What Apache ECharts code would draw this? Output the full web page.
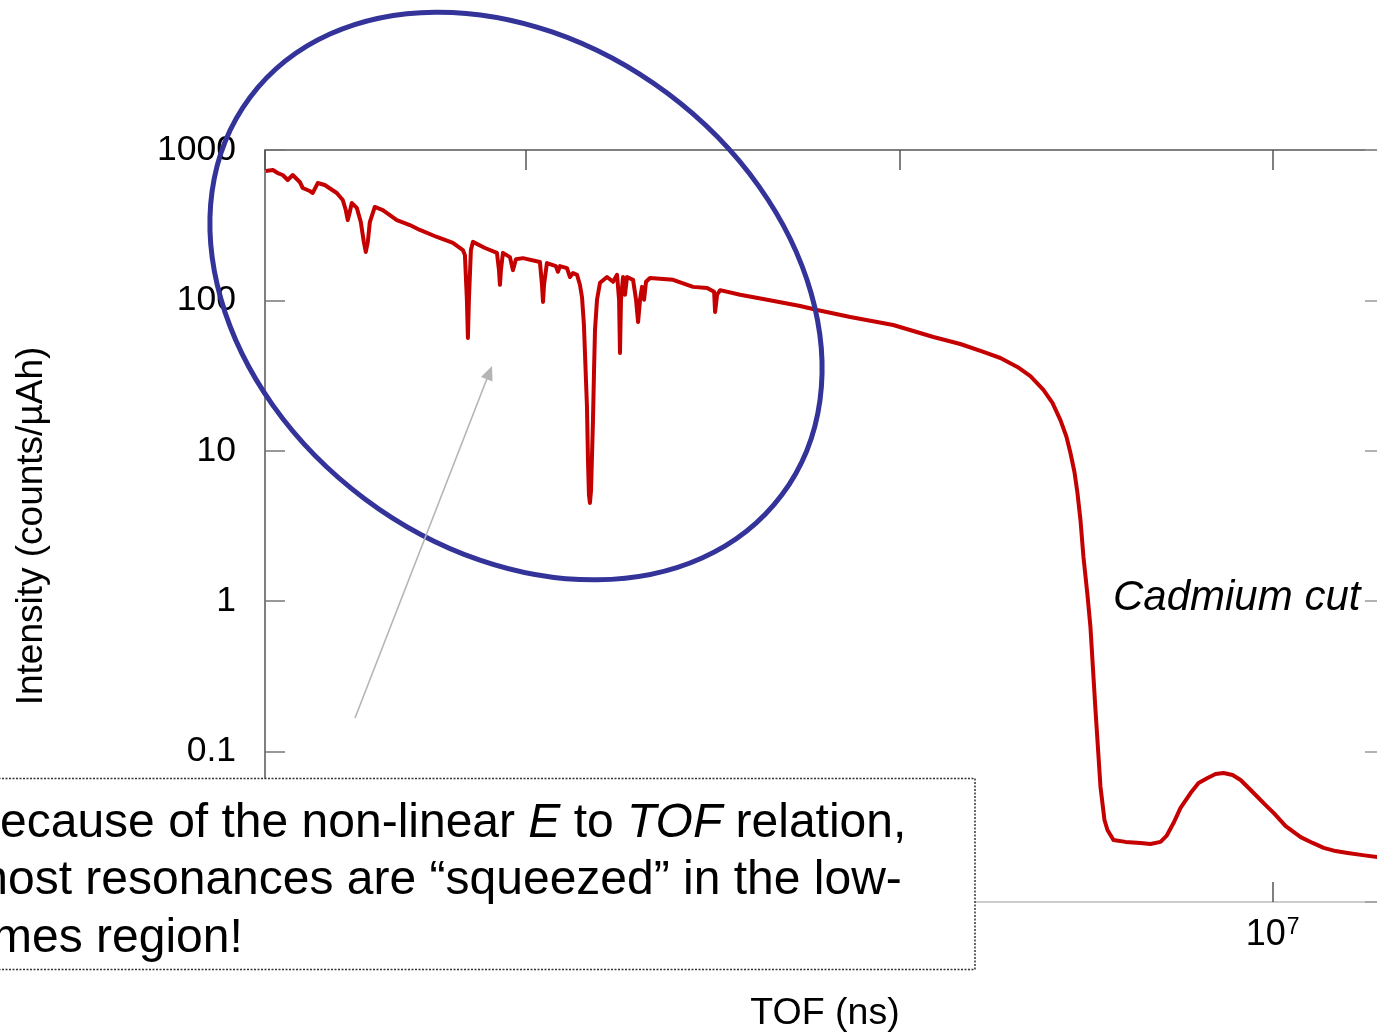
<!DOCTYPE html>
<html>
<head>
<meta charset="utf-8">
<title>TOF spectrum</title>
<script src="https://cdn.jsdelivr.net/npm/echarts@6/dist/echarts.min.js"></script>
<style>
  html, body { margin: 0; padding: 0; background: #ffffff; overflow: hidden; }
  #chart { width: 1377px; height: 1036px; }
</style>
</head>
<body>
<div id="chart"></div>
<script>
// Neutron time-of-flight (ns) and measured intensity (counts/µAh)
const tofNs = [
  2.01e4, 2.10e4, 2.163e4, 2.231e4, 2.301e4, 2.373e4, 2.478e4, 2.524e4, 2.636e4, 2.685e4,
  2.769e4, 2.891e4, 3.114e4, 3.231e4, 3.291e4, 3.332e4, 3.374e4, 3.415e4, 3.523e4, 3.611e4,
  3.679e4, 3.724e4, 3.771e4, 3.818e4, 3.937e4, 4.136e4, 4.510e4, 4.887e4, 5.197e4, 5.774e4,
  6.373e4, 6.778e4, 6.863e4, 6.947e4, 6.991e4, 7.034e4, 7.121e4, 7.210e4, 7.766e4, 8.362e4,
  8.467e4, 8.519e4, 8.570e4, 8.677e4, 9.060e4, 9.228e4, 9.401e4, 9.817e4, 1.090e5, 1.104e5,
  1.111e5, 1.118e5, 1.138e5, 1.203e5, 1.218e5, 1.234e5, 1.288e5, 1.312e5, 1.337e5, 1.370e5,
  1.395e5, 1.413e5, 1.430e5, 1.439e5, 1.457e5, 1.466e5, 1.475e5, 1.484e5, 1.494e5, 1.503e5,
  1.512e5, 1.522e5, 1.531e5, 1.550e5, 1.579e5, 1.649e5, 1.711e5, 1.754e5, 1.776e5, 1.786e5,
  1.797e5, 1.820e5, 1.842e5, 1.865e5, 1.888e5, 1.936e5, 1.972e5, 1.997e5, 2.021e5, 2.046e5,
  2.072e5, 2.097e5, 2.149e5, 2.478e5, 2.803e5, 3.057e5, 3.192e5, 3.211e5, 3.251e5, 3.312e5,
  3.747e5, 4.428e5, 5.427e5, 6.029e5, 7.389e5, 9.636e5, 1.234e6, 1.457e6, 1.680e6, 1.866e6,
  2.072e6, 2.245e6, 2.433e6, 2.572e6, 2.702e6, 2.804e6, 2.874e6, 2.946e6, 3.001e6, 3.057e6,
  3.114e6, 3.192e6, 3.251e6, 3.354e6, 3.459e6, 3.545e6, 3.611e6, 3.747e6, 4.036e6, 4.428e6,
  4.709e6, 5.009e6, 5.197e6, 5.427e6, 5.667e6, 6.029e6, 6.333e6, 6.694e6, 7.033e6, 7.389e6,
  7.812e6, 8.208e6, 8.626e6, 9.115e6, 9.577e6, 1.006e7, 1.084e7, 1.189e7, 1.280e7, 1.370e7,
  1.475e7, 1.589e7, 1.743e7, 1.912e7, 2.0e7
];
const intensity = [
  725, 736, 703, 682, 632, 682, 613, 559, 534, 518,
  603, 585, 518, 465, 399, 342, 387, 444, 412, 332,
  245, 210, 245, 332, 418, 399, 342, 317, 294, 264,
  241, 216, 200, 101, 56.2, 101, 216, 245, 223, 207,
  159, 127, 159, 207, 194, 159, 188, 191, 180, 127,
  97.6, 127, 177, 169, 155, 169, 164, 143, 152, 148,
  127, 105, 68.6, 44.7, 19.6, 8.69, 5.08, 4.50, 5.49, 9.38,
  16.0, 34.5, 63.6, 101, 131, 143, 133, 148, 101, 44.7,
  101, 143, 109, 143, 141, 137, 101, 71.8, 101, 123,
  101, 133, 141, 137, 123, 121, 114, 83.7, 109, 117,
  109, 101, 91.8, 86.3, 77.6, 68.6, 57.1, 51.3, 45.4, 41.4,
  36.1, 31.4, 25.4, 20.8, 16.0, 12.4, 9.67, 7.23, 5.24, 3.47,
  1.97, 1.10, 0.674, 0.189, 0.0582, 0.0351, 0.0301, 0.0258, 0.0251, 0.0247,
  0.0243, 0.0251, 0.0275, 0.0335, 0.0422, 0.0530, 0.0618, 0.0668, 0.0710, 0.0721,
  0.0699, 0.0647, 0.0573, 0.0499, 0.0441, 0.0391, 0.0320, 0.0270, 0.0247, 0.0229,
  0.0218, 0.0212, 0.0205, 0.0199, 0.0197
];

// Axis ranges and tick labels
const tofRange = [2e4, 2e7];
const intensityRange = [0.01, 1000];
const yTickLabels = ['0.01', '0.1', '1', '10', '100', '1000'];

const FONT = '"Liberation Sans", Arial, Helvetica, sans-serif';

const chart = echarts.init(document.getElementById('chart'), null, { renderer: 'canvas' });

function isDecade(v) {
  const n = Math.log10(v);
  return Math.abs(n - Math.round(n)) < 1e-6;
}

const noLabels = { show: false };

const option = {
  backgroundColor: '#ffffff',
  animation: false,
  grid: {
    left: 265, top: 150, width: 1120, height: 752,
    containLabel: false, outerBoundsMode: 'none'
  },
  xAxis: [
    {
      type: 'log', logBase: 10, min: tofRange[0], max: tofRange[1], position: 'bottom',
      name: 'TOF (ns)', nameLocation: 'middle', nameGap: 93,
      nameTextStyle: { fontFamily: FONT, fontSize: 37.5, color: '#000' },
      axisLine: { show: true, lineStyle: { color: '#cccccc', width: 2 } },
      axisTick: { show: true, inside: true, length: 20, lineStyle: { color: '#555555', width: 1.5 } },
      axisLabel: {
        margin: 14,
        formatter: v => isDecade(v) ? '{b|10}{s|' + Math.round(Math.log10(v)) + '}' : '',
        rich: {
          b: { fontFamily: FONT, fontSize: 36, color: '#000' },
          s: { fontFamily: FONT, fontSize: 23, color: '#000', verticalAlign: 'top', padding: [0, 0, 16, 1] }
        }
      },
      splitLine: { show: false },
      minorTick: { show: false }
    },
    {
      type: 'log', logBase: 10, min: tofRange[0], max: tofRange[1], position: 'top',
      axisLine: { show: true, lineStyle: { color: '#555555', width: 1.5 } },
      axisTick: { show: true, inside: true, length: 20, lineStyle: { color: '#555555', width: 1.5 } },
      axisLabel: noLabels,
      splitLine: { show: false }
    }
  ],
  yAxis: [
    {
      type: 'log', logBase: 10, min: intensityRange[0], max: intensityRange[1], position: 'left',
      name: 'Intensity (counts/µAh)', nameLocation: 'middle', nameGap: 215,
      nameTextStyle: { fontFamily: FONT, fontSize: 37, color: '#000' },
      axisLine: { show: true, lineStyle: { color: '#555555', width: 1.5 } },
      axisTick: { show: true, inside: true, length: 20, lineStyle: { color: '#777777', width: 1.5 } },
      axisLabel: {
        margin: 29, fontFamily: FONT, fontSize: 35.5, color: '#000',
        formatter: v => yTickLabels[Math.round(Math.log10(v)) + 2]
      },
      splitLine: { show: false }
    },
    {
      type: 'log', logBase: 10, min: intensityRange[0], max: intensityRange[1], position: 'right',
      axisLine: { show: true, lineStyle: { color: '#555555', width: 1.5 } },
      axisTick: { show: true, inside: true, length: 20, lineStyle: { color: '#999999', width: 1.5 } },
      axisLabel: noLabels,
      splitLine: { show: false }
    }
  ],
  series: [
    {
      type: 'line',
      xAxisIndex: 0,
      yAxisIndex: 0,
      showSymbol: false,
      symbol: 'none',
      smooth: false,
      lineStyle: { color: '#c40000', width: 4, join: 'round' },
      data: tofNs.map((t, i) => [t, intensity[i]])
    }
  ],
  graphic: {
    elements: [
      // resonance region highlight
      {
        type: 'ellipse', x: 516, y: 296, rotation: -0.642, z: 50,
        shape: { cx: 0, cy: 0, rx: 332, ry: 253 },
        style: { fill: null, stroke: '#333399', lineWidth: 5 }
      },
      // pointer from the note to the resonances
      {
        type: 'line', z: 50,
        shape: { x1: 355, y1: 718, x2: 488, y2: 376 },
        style: { stroke: '#b5b5b5', lineWidth: 1.6 }
      },
      {
        type: 'polygon', z: 50,
        shape: { points: [[492, 366], [492.5, 381.5], [481, 377]] },
        style: { fill: '#b5b5b5' }
      },
      {
        type: 'text', x: 1113, y: 598, z: 60,
        style: {
          text: 'Cadmium cut', fontFamily: FONT, fontSize: 42, fontStyle: 'italic',
          fill: '#000', align: 'left', verticalAlign: 'middle'
        }
      },
      // note box
      {
        type: 'rect', z: 100,
        shape: { x: -5, y: 778.5, width: 980, height: 191 },
        style: { fill: '#ffffff', stroke: '#333333', lineWidth: 1.5, lineDash: [2, 1.5] }
      },
      {
        type: 'text', x: -32, y: 823.5, z: 101,
        style: {
          text: 'Because of the non-linear {i|E} to {i|TOF} relation,',
          fontFamily: FONT, fontSize: 48, fill: '#000', align: 'left', verticalAlign: 'middle',
          rich: { i: { fontFamily: FONT, fontSize: 48, fontStyle: 'italic', fill: '#000' } }
        }
      },
      {
        type: 'text', x: -32, y: 881, z: 101,
        style: {
          text: 'most resonances are \u201csqueezed\u201d in the low-',
          fontFamily: FONT, fontSize: 48, fill: '#000', align: 'left', verticalAlign: 'middle'
        }
      },
      {
        type: 'text', x: -32, y: 938.5, z: 101,
        style: {
          text: 'times region!',
          fontFamily: FONT, fontSize: 48, fill: '#000', align: 'left', verticalAlign: 'middle'
        }
      }
    ]
  }
};

chart.setOption(option);
</script>
</body>
</html>
